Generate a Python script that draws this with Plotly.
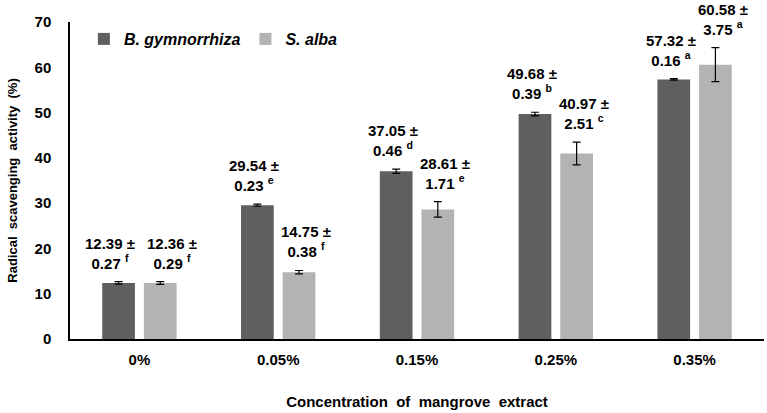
import plotly.graph_objects as go

categories = ["0%", "0.05%", "0.15%", "0.25%", "0.35%"]
bg_values = [12.39, 29.54, 37.05, 49.68, 57.32]
bg_sd = [0.27, 0.23, 0.46, 0.39, 0.16]
bg_letters = ["f", "e", "d", "b", "a"]
sa_values = [12.36, 14.75, 28.61, 40.97, 60.58]
sa_sd = [0.29, 0.38, 1.71, 2.51, 3.75]
sa_letters = ["f", "f", "e", "c", "a"]
y_ticks = [0, 10, 20, 30, 40, 50, 60, 70]

DARK = "#5f5f5f"
LIGHT = "#b3b3b3"
FONT = "Liberation Sans, Arial, sans-serif"

# extra horizontal spread of the value labels per category (style only)
label_spread = [5, 0, 0, 0, 0]

fig = go.Figure()
fig.add_trace(go.Bar(
    name="<b><i>B. gymnorrhiza</i></b>", x=categories, y=bg_values,
    marker=dict(color=DARK, line=dict(width=0)),
    error_y=dict(type="data", array=bg_sd, color="black", thickness=1.2, width=4),
))
fig.add_trace(go.Bar(
    name="<b><i>S. alba</i></b>", x=categories, y=sa_values,
    marker=dict(color=LIGHT, line=dict(width=0)),
    error_y=dict(type="data", array=sa_sd, color="black", thickness=1.2, width=4),
))

annotations = []
for vals, sds, letters, base, sign in [
    (bg_values, bg_sd, bg_letters, -24, -1),
    (sa_values, sa_sd, sa_letters, 28, 1),
]:
    for c, v, s, l, sp in zip(categories, vals, sds, letters, label_spread):
        annotations.append(dict(
            x=c, y=v + s, xref="x", yref="y",
            text=f"<b>{v:.2f} ±<br>{s:.2f} <sup>{l}</sup></b>",
            showarrow=False, yanchor="bottom", xanchor="center",
            xshift=base + sign * sp, yshift=8,
            font=dict(family=FONT, size=15, color="black"),
            align="center",
        ))

fig.update_layout(
    width=767, height=413,
    margin=dict(l=70, r=3, t=22, b=74, autoexpand=False),
    paper_bgcolor="white", plot_bgcolor="white",
    barmode="group", bargap=0.40, bargroupgap=0.214,
    font=dict(family=FONT, color="black"),
    showlegend=True, hovermode=False,
    legend=dict(
        orientation="h", x=0.02, y=1.0, xanchor="left", yanchor="top",
        font=dict(family=FONT, size=16, color="black"),
        bgcolor="rgba(0,0,0,0)", itemwidth=30, traceorder="normal",
    ),
    annotations=annotations,
)
fig.update_xaxes(
    automargin=False,
    showline=True, linecolor="black", linewidth=1.5,
    showgrid=False, ticks="", ticklabelstandoff=6,
    tickfont=dict(family=FONT, size=15, color="black", weight="bold"),
    title=dict(text="<b>Concentration  of  mangrove  extract</b>",
               font=dict(family=FONT, size=15, color="black"), standoff=30),
)
fig.update_yaxes(
    automargin=False,
    range=[0, 70], tickvals=y_ticks,
    showline=True, linecolor="black", linewidth=1.5,
    showgrid=False, zeroline=False, ticks="", ticklabelstandoff=14,
    tickfont=dict(family=FONT, size=15, color="black", weight="bold"),
    title=dict(text="<b>Radical  scavenging  activity  (%)</b>",
               font=dict(family=FONT, size=13, color="black"), standoff=14),
)

fig.write_html("out.html", config={"displayModeBar": False},
               post_script="document.body.style.margin='0';")
